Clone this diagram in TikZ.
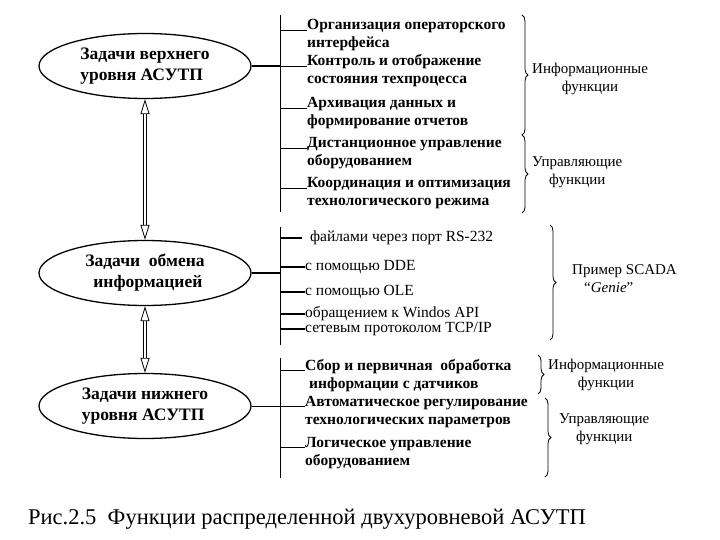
\documentclass[tikz,border=0pt]{standalone}
\usepackage{fontspec}
\setmainfont{Liberation Serif}
\usetikzlibrary{shapes.geometric, arrows.meta, positioning, calc, decorations.pathreplacing}

\begin{document}
\begin{tikzpicture}[x=1pt, y=-1pt, font=\fontsize{15.5}{18}\selectfont,
    task/.style={draw, ellipse, line width=1.3pt, minimum width=212pt, minimum height=65pt, inner sep=0pt, align=left, font=\fontsize{17.5}{21}\selectfont\bfseries},
    item/.style={anchor=base west, inner sep=0pt, align=left, font=\fontsize{15.5}{18}\selectfont\bfseries},
    way/.style={anchor=west, inner sep=0pt},
    bar/.style={line width=0.8pt},
    link/.style={line width=1.2pt},
    dblarrow/.style={double, double distance=2.6pt, line width=0.8pt, {Triangle[open, length=15pt, width=9pt]}-{Triangle[open, length=15pt, width=9pt]}},
    grp/.style={decorate, decoration={brace, amplitude=6pt}, line width=0.8pt},
    note/.style={anchor=west, align=center, inner sep=0pt, font=\fontsize{15}{18}\selectfont}]
    \useasboundingbox (0,0) rectangle (720,540);

    % three levels
    \node[task] (up) at (145,66) {Задачи верхнего\\уровня АСУТП};
    \node[task] (mid) at (145,273) {Задачи \ обмена\\\hspace*{8pt}информацией};
    \node[task] (low) at (145,406) {Задачи нижнего\\уровня АСУТП};
    \draw[dblarrow] (up.south) -- (mid.north);
    \draw[dblarrow] (mid.south) -- (low.north);

    % upper level (node base = last line, tick at first line)
    \coordinate (b1t) at (280,15);
    \coordinate (b1b) at (280,212);
    \draw[bar] (b1t) -- (b1b);
    \draw[link] (up.east) -- (up.east -| b1t);
    \node[item] (u1) at (307,48) {Организация операторского\\интерфейса};
    \node[item] (u2) at (307,84) {Контроль и отображение\\состояния техпроцесса};
    \node[item] (u3) at (307,126) {Архивация данных и\\формирование отчетов};
    \node[item] (u4) at (307,166) {Дистанционное управление\\оборудованием};
    \node[item] (u5) at (307,206) {Координация и оптимизация\\технологического режима};
    \foreach \i in {u1,u2,u3,u4,u5}
        \draw[bar] ([yshift=18pt]\i.base west -| b1t) -- ([yshift=18pt]\i.base west);
    \coordinate (g1t) at (522,15);
    \coordinate (g1b) at (522,135);
    \coordinate (g2b) at (522,213);
    \draw[grp] (g1t) -- (g1b);
    \draw[grp] (g1b) -- (g2b);
    \node[note] (n1) at ($(g1t)!0.5!(g1b) + (10,4)$) {Информационные\\функции};
    \node[note] (n2) at ($(g1b)!0.5!(g2b) + (10,-2)$) {Управляющие\\функции};

    % exchange
    \coordinate (b2t) at (280,227);
    \coordinate (b2b) at (280,345);
    \draw[bar] (b2t) -- (b2b);
    \draw[link] (mid.east) -- (mid.east -| b2t);
    \node[way] (m1) at (310,238) {файлами через порт RS-232};
    \node[way] (m2) at (305,267) {с помощью DDE};
    \node[way] (m3) at (305,292) {с помощью OLE};
    \node[way] (m4) at (305,314) {обращением к Windos API};
    \node[way] (m5) at (305,329) {сетевым протоколом TCP/IP};
    \draw[link] (m1.west -| b2t) -- ([xshift=-8pt]m1.west);
    \foreach \i in {m2,m3,m4,m5}
        \draw[link] (\i.west -| b2t) -- (\i.west);
    \coordinate (g3t) at (550,225);
    \coordinate (g3b) at (550,340);
    \draw[grp] (g3t) -- (g3b);
    \node[note, align=left] (n3) at ($(g3t)!0.5!(g3b) + (22,-4)$) {Пример SCADA\\\hspace*{12pt}“\textit{Genie}”};

    % lower level
    \coordinate (b3t) at (280,358);
    \coordinate (b3b) at (280,478);
    \draw[bar] (b3t) -- (b3b);
    \draw[bar] (low.east) -- (low.east -| b3t);
    \node[item] (l1) at (305,388) {Сбор и первичная \ обработка\\\hspace*{4pt}информации с датчиков};
    \node[item] (l2) at (305,424) {Автоматическое регулирование\\технологических параметров};
    \node[item] (l3) at (305,465) {Логическое управление\\оборудованием};
    \foreach \i in {l1,l2,l3}
        \draw[bar] ([yshift=18pt]\i.base west -| b3t) -- ([yshift=18pt]\i.base west);
    \coordinate (g4t) at (538,355);
    \coordinate (g4b) at (538,394);
    \coordinate (g5t) at (545,398);
    \coordinate (g5b) at (545,477);
    \draw[grp] (g4t) -- (g4b);
    \draw[grp] (g5t) -- (g5b);
    \node[note] (n4) at ($(g4t)!0.5!(g4b) + (10,0)$) {Информационные\\функции};
    \node[note] (n5) at ($(g5t)!0.5!(g5b) + (14,-8)$) {Управляющие\\функции};

    \node[anchor=base west, inner sep=0pt, font=\fontsize{22.5}{26}\selectfont] (cap) at (28,524) {Рис.2.5 \ Функции распределенной двухуровневой АСУТП};
\end{tikzpicture}
\end{document}
